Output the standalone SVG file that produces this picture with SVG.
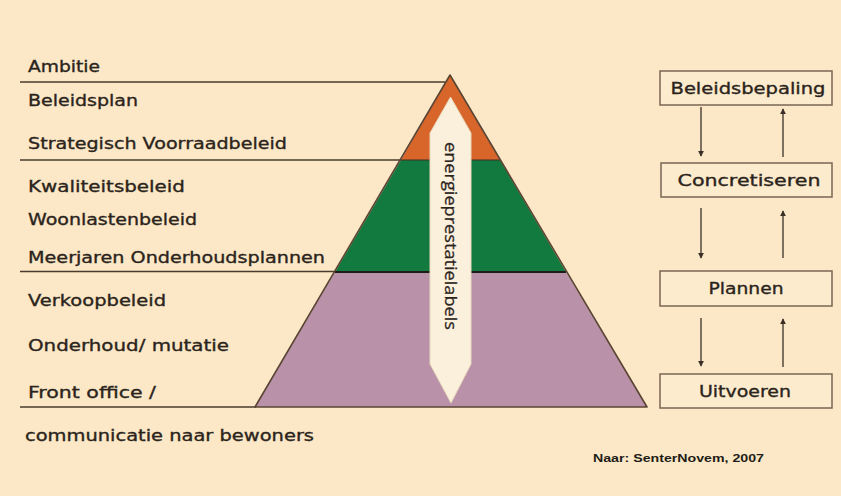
<svg xmlns="http://www.w3.org/2000/svg" width="841" height="496" viewBox="0 0 841 496">
<defs>
<style>
.lbl{font-family:"DejaVu Sans","Liberation Sans",sans-serif;font-size:16px;fill:#2b241c;stroke:#2b241c;stroke-width:0.35}
.box rect{fill:#fcebcc;stroke:#7a6654;stroke-width:1.5}
.box text{font-family:"DejaVu Sans","Liberation Sans",sans-serif;font-size:16px;fill:#2b241c;stroke:#2b241c;stroke-width:0.35;text-anchor:middle}
.rule{stroke:#4a3b2e;stroke-width:1.6}
.conn line{stroke:#3a3028;stroke-width:1.3}
</style>
<marker id="ah" viewBox="0 0 8 8" refX="7" refY="4" markerWidth="6" markerHeight="6" markerUnits="userSpaceOnUse" orient="auto">
<path d="M0,0 L8,4 L0,8 z" fill="#3a3028"/>
</marker>
</defs>
<rect width="841" height="496" fill="#fce8c6"/>

<g id="rules">
<line class="rule" x1="20" y1="82" x2="445" y2="82"/>
<line class="rule" x1="20" y1="160" x2="402" y2="160"/>
<line class="rule" x1="20" y1="271.5" x2="336" y2="271.5"/>
<line class="rule" x1="20" y1="407" x2="256" y2="407"/>
</g>

<g id="pyramid">
<polygon points="450,75 500,160 401,160" fill="#d8652a"/>
<polygon points="401,160 500,160 566,272 335,272" fill="#127a3e"/>
<polygon points="335,272 566,272 647,407 255,407" fill="#b992a9"/>
<line x1="401" y1="160" x2="500" y2="160" stroke="#3d3024" stroke-width="1.2"/>
<line x1="335" y1="272" x2="566" y2="272" stroke="#1e1a16" stroke-width="2.2"/>
<polygon points="450,75 647,407 255,407" fill="none" stroke="#5a4433" stroke-width="1.6" stroke-linejoin="round"/>
</g>

<g id="energy-arrow">
<polygon points="450.5,97 471,133 471,364 451,403 430,364 430,133" fill="#fbf0dc" stroke="#e8d8bc" stroke-width="1"/>
<text transform="translate(445,236) rotate(90)" text-anchor="middle" font-family="'Open Sans','DejaVu Sans',sans-serif" font-size="17" fill="#2b241c" stroke="#2b241c" stroke-width="0.3" textLength="188" lengthAdjust="spacingAndGlyphs">energieprestatielabels</text>
</g>

<g id="labels">
<text class="lbl" x="28" y="72" textLength="72" lengthAdjust="spacingAndGlyphs">Ambitie</text>
<text class="lbl" x="28" y="106" textLength="110" lengthAdjust="spacingAndGlyphs">Beleidsplan</text>
<text class="lbl" x="28" y="149" textLength="259" lengthAdjust="spacingAndGlyphs">Strategisch Voorraadbeleid</text>
<text class="lbl" x="28" y="192" textLength="157" lengthAdjust="spacingAndGlyphs">Kwaliteitsbeleid</text>
<text class="lbl" x="28" y="225" textLength="169" lengthAdjust="spacingAndGlyphs">Woonlastenbeleid</text>
<text class="lbl" x="28" y="263" textLength="297" lengthAdjust="spacingAndGlyphs">Meerjaren Onderhoudsplannen</text>
<text class="lbl" x="28" y="306" textLength="138" lengthAdjust="spacingAndGlyphs">Verkoopbeleid</text>
<text class="lbl" x="28" y="351" textLength="201" lengthAdjust="spacingAndGlyphs">Onderhoud/ mutatie</text>
<text class="lbl" x="28" y="398" textLength="128" lengthAdjust="spacingAndGlyphs">Front office /</text>
<text class="lbl" x="25" y="441" textLength="289" lengthAdjust="spacingAndGlyphs">communicatie naar bewoners</text>
</g>

<g id="box-beleidsbepaling" class="box">
<rect x="660" y="71" width="172" height="34"/>
<text x="748" y="94" textLength="155" lengthAdjust="spacingAndGlyphs">Beleidsbepaling</text>
</g>
<g id="box-concretiseren" class="box">
<rect x="661" y="163" width="171" height="34"/>
<text x="749" y="186" textLength="143" lengthAdjust="spacingAndGlyphs">Concretiseren</text>
</g>
<g id="box-plannen" class="box">
<rect x="660" y="271" width="172" height="35"/>
<text x="746" y="294" textLength="75" lengthAdjust="spacingAndGlyphs">Plannen</text>
</g>
<g id="box-uitvoeren" class="box">
<rect x="660" y="374" width="172" height="34"/>
<text x="745" y="397" textLength="92" lengthAdjust="spacingAndGlyphs">Uitvoeren</text>
</g>

<g id="connectors" class="conn">
<line x1="701" y1="107" x2="701" y2="156" marker-end="url(#ah)"/>
<line x1="783" y1="157" x2="783" y2="109" marker-end="url(#ah)"/>
<line x1="701" y1="208" x2="701" y2="258" marker-end="url(#ah)"/>
<line x1="783" y1="258" x2="783" y2="211" marker-end="url(#ah)"/>
<line x1="701" y1="318" x2="701" y2="366" marker-end="url(#ah)"/>
<line x1="783" y1="367" x2="783" y2="319" marker-end="url(#ah)"/>
</g>

<g id="source">
<text x="593" y="462" font-family="'Liberation Sans',Arial,sans-serif" font-size="11" font-weight="bold" fill="#221c16" textLength="171" lengthAdjust="spacingAndGlyphs">Naar: SenterNovem, 2007</text>
</g>
</svg>
